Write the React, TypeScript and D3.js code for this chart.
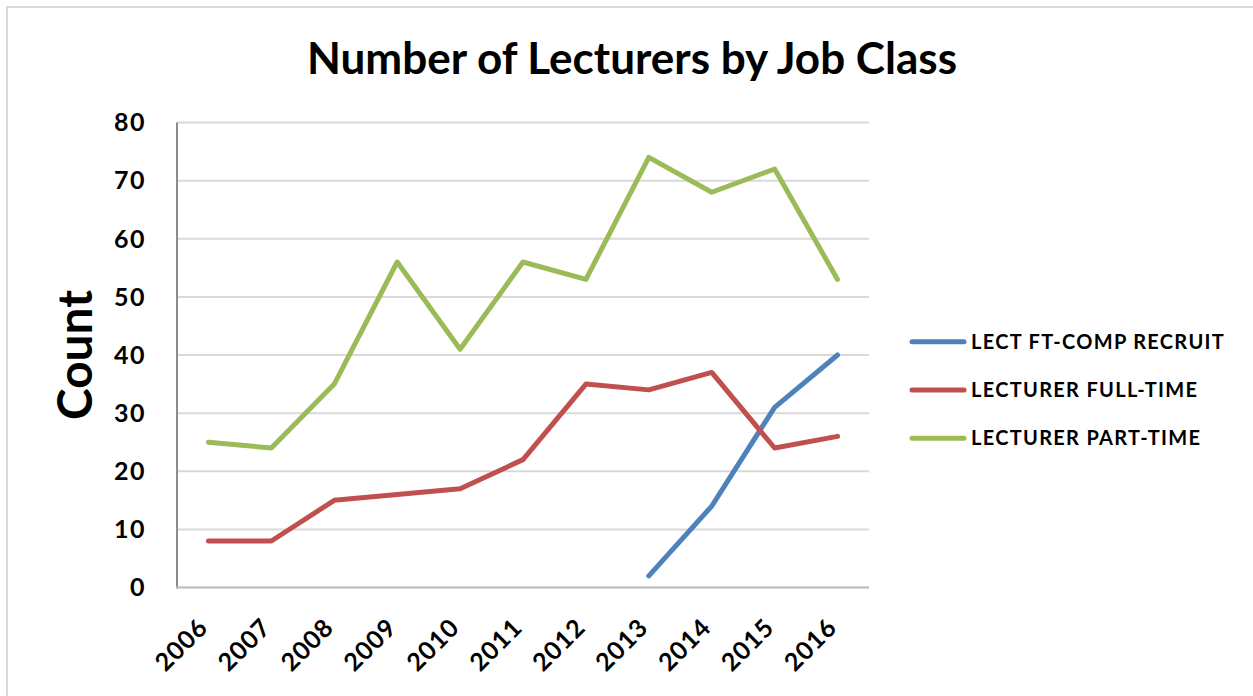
import React from "react";
import * as d3 from "d3";

const years = ["2006", "2007", "2008", "2009", "2010", "2011", "2012", "2013", "2014", "2015", "2016"];
const recruit: (number | null)[] = [null, null, null, null, null, null, null, 2, 14, 31, 40];
const fullTime: (number | null)[] = [8, 8, 15, 16, 17, 22, 35, 34, 37, 24, 26];
const partTime: (number | null)[] = [25, 24, 35, 56, 41, 56, 53, 74, 68, 72, 53];
const yTicks = [0, 10, 20, 30, 40, 50, 60, 70, 80];
const seriesNames = ["LECT FT-COMP RECRUIT", "LECTURER FULL-TIME", "LECTURER PART-TIME"];
const seriesColors = ["#4F81BD", "#C0504D", "#9BBB59"];
const seriesValues = [recruit, fullTime, partTime];

const FONT = "Lato, 'Open Sans', sans-serif";

export default function App() {
  const W = 1253, H = 696;
  const x = d3.scaleBand<string>().domain(years).range([177, 869]);
  const y = d3.scaleLinear().domain([0, 80]).range([587.5, 122.5]);
  const cx = (yr: string) => (x(yr) as number) + x.bandwidth() / 2;
  const line = d3
    .line<number | null>()
    .defined((d) => d !== null)
    .x((_, i) => cx(years[i]))
    .y((d) => y(d as number));

  return (
    <svg
      width={W}
      height={H}
      style={{ position: "absolute", left: 0, top: 0, display: "block", background: "#fff" }}
      fontFamily={FONT}
    >
      <rect x={0} y={0} width={W} height={H} fill="#fff" />
      <rect x={7} y={7} width={1400} height={900} fill="none" stroke="#d9d9d9" strokeWidth={2} />

      <text x={632} y={73.5} textAnchor="middle" fontSize={43} fontWeight={700} textLength={650} lengthAdjust="spacingAndGlyphs" fill="#000">
        Number of Lecturers by Job Class
      </text>

      {yTicks.map((t) => (
        <line key={t} x1={177} x2={869} y1={y(t)} y2={y(t)} stroke="#d9d9d9" strokeWidth={2} />
      ))}
      <line x1={177} x2={177} y1={y(80)} y2={y(0) + 1} stroke="#8c8c8c" strokeWidth={2} />
      <line x1={176} x2={869} y1={y(0)} y2={y(0)} stroke="#bfbfbf" strokeWidth={2} />

      {yTicks.map((t) => (
        <text key={t} x={146} y={y(t) + 8.8} textAnchor="end" fontSize={25} fontWeight={700} letterSpacing={1.5} fill="#000">
          {t}
        </text>
      ))}

      {years.map((yr) => (
        <text
          key={yr}
          transform={`translate(${cx(yr) + 1},629) rotate(-45)`}
          textAnchor="end"
          fontSize={25}
          fontWeight={700}
          letterSpacing={1}
          fill="#000"
        >
          {yr}
        </text>
      ))}

      <text transform="translate(92,355) rotate(-90)" textAnchor="middle" fontSize={47} fontWeight={700} textLength={130} lengthAdjust="spacingAndGlyphs" fill="#000">
        Count
      </text>

      {seriesValues.map((vals, i) => (
        <path key={i} d={line(vals) || ""} fill="none" stroke={seriesColors[i]} strokeWidth={5} strokeLinecap="round" strokeLinejoin="round" />
      ))}

      {seriesNames.map((n, i) => {
        const ly = 341.7 + i * 48.3;
        return (
          <g key={n}>
            <line x1={912} x2={964} y1={ly} y2={ly} stroke={seriesColors[i]} strokeWidth={5} strokeLinecap="round" />
            <text x={971} y={ly + 7} fontSize={20} fontWeight={700} letterSpacing={1.3} fill="#000">
              {n}
            </text>
          </g>
        );
      })}
    </svg>
  );
}
